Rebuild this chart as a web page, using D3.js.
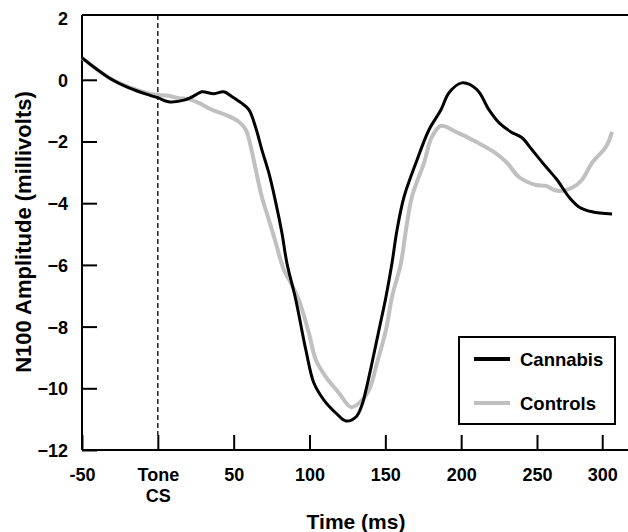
<!doctype html>
<html>
<head>
<meta charset="utf-8">
<style>
  body { margin: 0; background: #fff; }
  svg text { font-family: "Liberation Sans", Arial, Helvetica, sans-serif; font-weight: bold; fill: #000; }
  .axis path, .axis line { stroke: #000; stroke-width: 2; }
  .axis text { font-size: 18px; }
</style>
</head>
<body>
<svg id="chart" width="628" height="532"></svg>
<script src="https://d3js.org/d3.v7.min.js"></script>
<script>
// data (ms, millivolts)
var cannabisTime = [-50, -32, -19, -6, 0, 7, 18, 25, 29, 37, 43.5, 49, 55, 60, 64.6, 68.6, 73.2, 77.8, 81.8, 85.1, 91, 97.6, 102.9, 109.5, 117.4, 124, 130.6, 134.6, 137.2, 141.2, 145.8, 150.4, 154.4, 157.7, 162.3, 170.2, 178.8, 186.7, 192, 200.5, 210.4, 218.3, 224.9, 232.8, 240.1, 246.7, 255.9, 263.2, 271.1, 277.7, 286.3, 299.5];
var cannabisAmp = [0.71, 0.06, -0.26, -0.49, -0.58, -0.71, -0.65, -0.49, -0.39, -0.45, -0.39, -0.55, -0.75, -0.97, -1.56, -2.27, -3.02, -3.99, -4.96, -5.94, -7.14, -8.76, -9.83, -10.38, -10.8, -11.06, -10.93, -10.54, -10.06, -9.18, -8.11, -7.04, -5.94, -4.87, -3.80, -2.69, -1.62, -0.97, -0.42, -0.10, -0.32, -0.97, -1.39, -1.69, -1.88, -2.27, -2.82, -3.24, -3.80, -4.12, -4.28, -4.35];

var controlsTime = [-50, -32, -19, -6, 0.7, 7, 13.9, 20, 27, 35.6, 44.9, 53.4, 58, 61.3, 64.6, 68.6, 73.2, 77.8, 83.1, 87.7, 93, 99.6, 104.2, 110.8, 119.4, 127.3, 132.6, 139.2, 144.5, 150.4, 154.4, 160.3, 163.6, 167.5, 175.5, 180.7, 186.7, 196.6, 209.8, 221.6, 230.2, 238.1, 249.3, 255.9, 263.2, 273.1, 279.7, 286.3, 295.5, 299.5];
var controlsAmp = [0.71, 0.06, -0.24, -0.44, -0.49, -0.52, -0.6, -0.62, -0.75, -0.97, -1.14, -1.36, -1.62, -2.17, -2.92, -3.8, -4.54, -5.29, -6.16, -6.58, -7.14, -8.21, -9.08, -9.63, -10.15, -10.61, -10.48, -10.06, -9.18, -8.11, -7.04, -5.94, -4.87, -3.80, -2.69, -1.85, -1.49, -1.69, -2.01, -2.34, -2.69, -3.15, -3.41, -3.44, -3.60, -3.50, -3.24, -2.69, -2.17, -1.69];

var seriesNames = ["Cannabis", "Controls"];
var seriesColors = ["#000000", "#c0c0c0"];

var yTickValues = [-12, -10, -8, -6, -4, -2, 0, 2];
var xTickValues = [-50, 0, 50, 100, 150, 200, 250, 293];
var xTickLabels = ["-50", "Tone|CS", "50", "100", "150", "200", "250", "300"];

var svg = d3.select("#chart");
var plotLeft = 82, plotRight = 628, plotTop = 15, plotBottom = 450;

var x = d3.scaleLinear().domain([-50, 310]).range([plotLeft, plotRight]);
var y = d3.scaleLinear().domain([-12, 2.1]).range([plotBottom, plotTop]);

// top border
svg.append("line")
  .attr("x1", plotLeft).attr("x2", plotRight)
  .attr("y1", plotTop).attr("y2", plotTop)
  .attr("stroke", "#000").attr("stroke-width", 2);

// dashed line at tone onset
svg.append("line")
  .attr("x1", x(0)).attr("x2", x(0))
  .attr("y1", plotTop).attr("y2", plotBottom - 15)
  .attr("stroke", "#000").attr("stroke-width", 1.3)
  .attr("stroke-dasharray", "5,3");

var yAxis = d3.axisLeft(y)
  .tickValues(yTickValues)
  .tickSizeInner(-15)
  .tickSizeOuter(0)
  .tickPadding(14)
  .tickFormat(d3.format("d"));

var gy = svg.append("g")
  .attr("class", "axis")
  .attr("transform", "translate(" + plotLeft + ",0)")
  .call(yAxis);
gy.selectAll(".tick text").attr("dy", "0.36em");
gy.selectAll(".tick").filter(function(d) { return d === 2; }).select("line").remove();
gy.select(".domain").attr("d", "M0," + plotTop + "V" + plotBottom);

var xAxis = d3.axisBottom(x)
  .tickValues(xTickValues)
  .tickSizeInner(-15)
  .tickSizeOuter(0)
  .tickPadding(18)
  .tickFormat(function(d, i) { return xTickLabels[i]; });

var gx = svg.append("g")
  .attr("class", "axis")
  .attr("transform", "translate(0," + plotBottom + ")")
  .call(xAxis);
gx.select(".domain").attr("d", "M" + plotLeft + ",0H" + plotRight);

gx.selectAll(".tick text").each(function(d, i) {
  var parts = xTickLabels[i].split("|");
  if (parts.length > 1) {
    var t = d3.select(this).text(null);
    parts.forEach(function(p, j) {
      t.append("tspan").attr("x", 0).attr("dy", j === 0 ? "0.71em" : "1.2em").text(p);
    });
    t.attr("dy", null);
  }
});

// lines
var line = d3.line()
  .x(function(d) { return x(d[0]); })
  .y(function(d) { return y(d[1]); })
  .curve(d3.curveCatmullRom.alpha(0.5));

var controls = controlsTime.map(function(t, i) { return [t, controlsAmp[i]]; });
var cannabis = cannabisTime.map(function(t, i) { return [t, cannabisAmp[i]]; });

svg.append("path")
  .datum(controls)
  .attr("fill", "none")
  .attr("stroke", seriesColors[1])
  .attr("stroke-width", 4)
  .attr("stroke-linejoin", "round")
  .attr("d", line);

svg.append("path")
  .datum(cannabis)
  .attr("fill", "none")
  .attr("stroke", seriesColors[0])
  .attr("stroke-width", 3)
  .attr("stroke-linejoin", "round")
  .attr("d", line);

// axis titles
svg.append("text")
  .attr("x", 356).attr("y", 529)
  .attr("text-anchor", "middle")
  .style("font-size", "21px")
  .text("Time (ms)");

svg.append("text")
  .attr("transform", "translate(31,232) rotate(-90)")
  .attr("text-anchor", "middle")
  .style("font-size", "22px")
  .text("N100 Amplitude (millivolts)");

// legend
var legend = svg.append("g").attr("transform", "translate(459,337)");
legend.append("rect")
  .attr("width", 156).attr("height", 87)
  .attr("fill", "#fff").attr("stroke", "#000").attr("stroke-width", 2);

seriesNames.forEach(function(name, i) {
  var ly = 22 + i * 44;
  legend.append("line")
    .attr("x1", 15).attr("x2", 51)
    .attr("y1", ly).attr("y2", ly)
    .attr("stroke", seriesColors[i]).attr("stroke-width", 4);
  legend.append("text")
    .attr("x", 61).attr("y", ly + 6.5)
    .style("font-size", "18.5px")
    .text(name);
});
</script>
</body>
</html>
